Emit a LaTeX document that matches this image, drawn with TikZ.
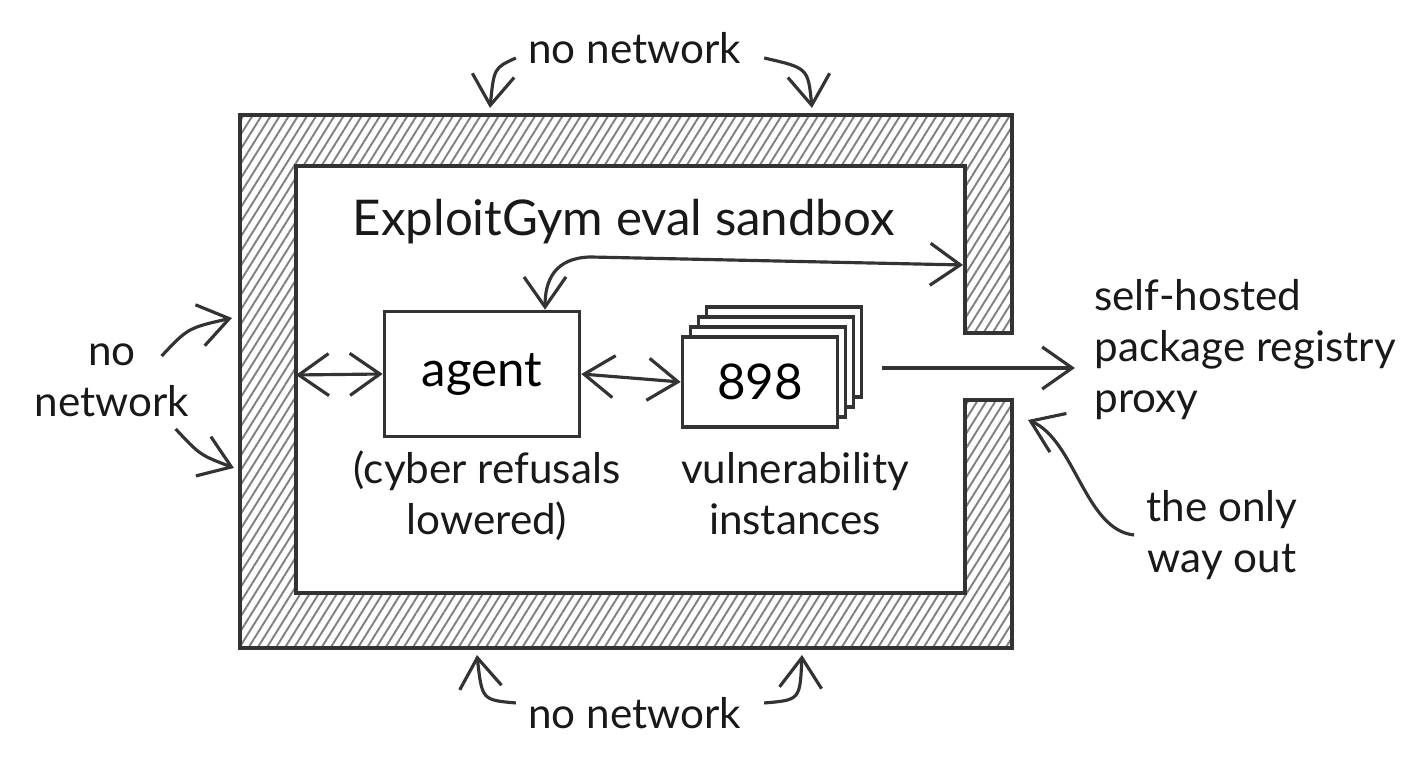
\documentclass[tikz,border=0pt]{standalone}
\usepackage{fontspec}
\setmainfont{Lato}
\usetikzlibrary{arrows.meta,patterns.meta,positioning}
\begin{document}
\begin{tikzpicture}[x=0.01cm,y=-0.01cm,>={Straight Barb[length=3mm,width=4.2mm]}]
	% sizes of the boxes
	\def\agentw{1.95cm}
	\def\agenth{1.25cm}
	\def\cardw{1.55cm}
	\def\cardh{0.9cm}
	% node style definition
	\tikzstyle{box} = [draw=black!80, line width=1pt, fill=white, rectangle, minimum width=\agentw, minimum height=\agenth, font=\fontsize{14}{16}\selectfont];
	\tikzstyle{card} = [draw=black!80, line width=1pt, fill=white, rectangle, minimum width=\cardw, minimum height=\cardh, font=\fontsize{14}{16}\selectfont];
	\tikzstyle{note} = [font=\fontsize{12}{14.5}\selectfont, align=center, text=black!90];
	\tikzstyle{link} = [draw=black!80, line width=0.9pt];
	\useasboundingbox (0,0) rectangle (1408,768);
	% the hatched wall, open on the right
	\draw[pattern={Lines[angle=58,distance=2.2pt,line width=0.55pt]}, pattern color=black!50, draw=black!80, line width=1.1pt]
		(240,115) -- (1012,115) -- (1012,333) -- (965,333) -- (965,166) -- (296,166) -- (296,593)
		-- (965,593) -- (965,400) -- (1012,400) -- (1012,648) -- (240,648) -- cycle;
	% points on the wall
	\coordinate (wallL) at (296,375);
	\coordinate (wallR) at (963,265);
	\coordinate (gap) at (1028,420);
	\coordinate (topL) at (490,108);
	\coordinate (topR) at (812,108);
	\coordinate (botL) at (477,655);
	\coordinate (botR) at (802,655);
	\coordinate (sideT) at (232,318);
	\coordinate (sideB) at (234,468);
	\coordinate (exit) at (882,368);
	% inside the sandbox
	\node[note, font=\fontsize{14}{17}\selectfont] (title) at (630,222) { ExploitGym eval sandbox };
	\node[box] (agent) at (482,374) { agent };
	\foreach \i in {3,2,1}
		\node[card] (card\i) at (760+8*\i,382-10*\i) {  };
	\node[card] (insts) at (760,382) { 898 };
	\node[note] (agentnote) at (487,496) { (cyber refusals\\lowered) };
	\node[note] (instnote) at (795,494) { vulnerability\\instances };
	% outside labels
	\node[note, align=left, anchor=west] (proxy) at (1082,350) { self-hosted\\package registry\\proxy };
	\node[note] (wayout) at (1222,535) { the only\\way out };
	\node[note] (nettop) at (640,48) { no network };
	\node[note] (netbot) at (640,713) { no network };
	\node[note] (netleft) at (112,380) { no\\network };
	% connectors
	\draw[link,<->] (wallL) -- (agent.west);
	\draw[link,<->] (agent.east) -- (insts.west);
	\draw[link,->] (exit) -- ([xshift=-2pt]proxy.west |- exit);
	\draw[link,<->] (wallR) -- (590,257) .. controls (555,258) and (545,280) .. ([xshift=0.63cm]agent.north);
	\draw[link,->] ([yshift=-0.1cm]nettop.west) .. controls (494,68) .. (topL);
	\draw[link,->] ([yshift=-0.1cm]nettop.east) .. controls (808,68) .. (topR);
	\draw[link,->] ([yshift=0.1cm]netbot.west) .. controls (482,700) .. (botL);
	\draw[link,->] ([yshift=0.1cm]netbot.east) .. controls (800,700) .. (botR);
	\draw[link,->] ([shift={(-0.4cm,-0.25cm)}]netleft.north east) .. controls (188,328) .. (sideT);
	\draw[link,->] ([shift={(-0.26cm,0cm)}]netleft.south east) .. controls (200,455) .. (sideB);
	\draw[link,->] (wayout.west) .. controls (1085,530) and (1075,440) .. (gap);
\end{tikzpicture}
\end{document}
